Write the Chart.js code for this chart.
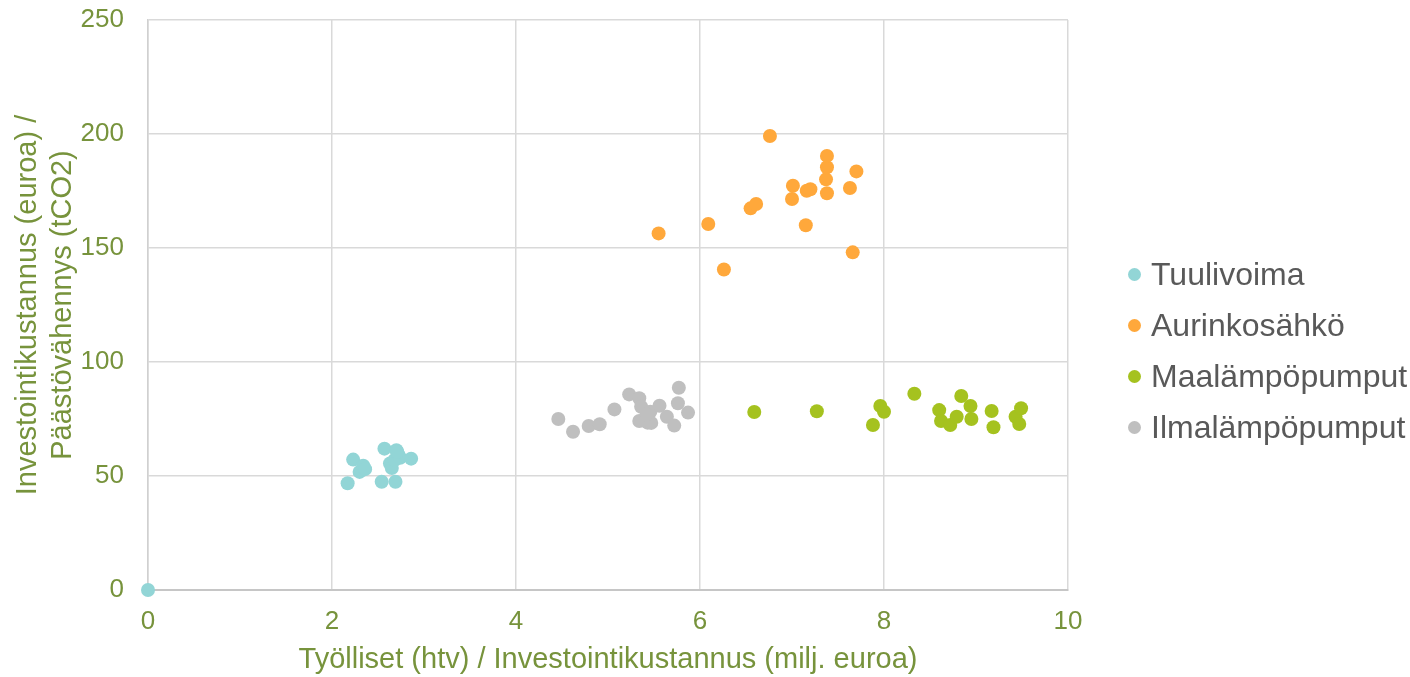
<!DOCTYPE html>
<html lang="fi">
<head>
<meta charset="utf-8">
<title>Työlliset ja päästövähennys</title>
<script src="https://cdn.jsdelivr.net/npm/chart.js@4/dist/chart.umd.min.js"></script>
<style>
    html, body { margin: 0; padding: 0; background: #ffffff; }
    #wrap { position: relative; width: 1410px; height: 677px; }
    #legend {
        position: absolute;
        left: 1127.5px;
        top: 248.5px;
        font-family: "Liberation Sans", Arial, sans-serif;
        font-size: 32px;
        color: #595959;
    }
    .legend-item {
        display: flex;
        align-items: center;
        height: 51px;
        line-height: 32px;
        white-space: nowrap;
    }
    .legend-dot {
        width: 13px;
        height: 13px;
        border-radius: 50%;
        margin-right: 10.5px;
        flex: none;
    }
</style>
</head>
<body>
<div id="wrap">
    <canvas id="scatterChart" width="1410" height="677"></canvas>
    <div id="legend"></div>
</div>
<script>
// =========================================================
// Data
// =========================================================

const seriesNames = ['Tuulivoima', 'Aurinkosähkö', 'Maalämpöpumput', 'Ilmalämpöpumput'];

const tuuliX = [0, 2.17, 2.23, 2.30, 2.34, 2.36, 2.54, 2.57, 2.63, 2.65, 2.68, 2.70, 2.72, 2.74, 2.69, 2.86, 2.71];
const tuuliY = [0, 46.8, 57.2, 51.8, 54.5, 53.0, 47.5, 62.0, 55.5, 53.5, 57.0, 61.3, 59.5, 58.0, 47.5, 57.6, 60.5];

const aurinkoX = [5.55, 6.09, 6.26, 6.55, 6.61, 6.76, 7.00, 7.01, 7.15, 7.16, 7.20, 7.37, 7.38, 7.38, 7.38, 7.63, 7.66, 7.70];
const aurinkoY = [156.4, 160.5, 140.6, 167.4, 169.3, 199.1, 171.5, 177.3, 160.0, 175.1, 175.8, 180.1, 174.0, 185.4, 190.4, 176.3, 148.1, 183.6];

const maaX = [6.59, 7.27, 7.88, 7.96, 8.00, 8.33, 8.60, 8.62, 8.72, 8.79, 8.84, 8.94, 8.95, 9.17, 9.19, 9.43, 9.47, 9.49];
const maaY = [78.1, 78.4, 72.4, 80.7, 78.2, 86.1, 78.9, 74.1, 72.4, 76.0, 85.1, 80.7, 75.0, 78.5, 71.4, 76.0, 72.8, 79.7];

const ilmaX = [4.46, 4.62, 4.79, 4.91, 5.07, 5.23, 5.34, 5.36, 5.46, 5.56, 5.34, 5.43, 5.47, 5.64, 5.72, 5.77, 5.76, 5.87, 5.42];
const ilmaY = [75.0, 69.4, 71.9, 72.7, 79.2, 85.8, 84.1, 80.4, 78.2, 80.8, 74.1, 73.4, 73.3, 76.0, 72.1, 88.7, 81.9, 77.8, 77.0];

const xTitle = 'Työlliset (htv) / Investointikustannus (milj. euroa)';
const yTitle = ['Investointikustannus (euroa) /', 'Päästövähennys (tCO2)'];

// =========================================================
// Styling
// =========================================================

const seriesColors = ['#92D5D6', '#FFA83B', '#A5C21F', '#BFBFBF'];
const axisText = '#77933C';
const fontFamily = '"Liberation Sans", Arial, sans-serif';

function toPoints(xs, ys) {
    return xs.map((x, i) => ({ x: x, y: ys[i] }));
}

const allSeries = [
    toPoints(tuuliX, tuuliY),
    toPoints(aurinkoX, aurinkoY),
    toPoints(maaX, maaY),
    toPoints(ilmaX, ilmaY)
];

const datasets = allSeries.map((pts, i) => ({
    label: seriesNames[i],
    data: pts,
    backgroundColor: seriesColors[i],
    borderColor: seriesColors[i],
    borderWidth: 0,
    pointRadius: 7,
    pointHoverRadius: 7,
    pointStyle: 'circle',
    clip: false   // the origin point sits on the axes and is drawn whole
}));

// =========================================================
// Legend (HTML, to the right of the plot)
// =========================================================

const legendEl = document.getElementById('legend');
seriesNames.forEach((name, i) => {
    const item = document.createElement('div');
    item.className = 'legend-item';
    const dot = document.createElement('span');
    dot.className = 'legend-dot';
    dot.style.background = seriesColors[i];
    const label = document.createElement('span');
    label.textContent = name;
    item.appendChild(dot);
    item.appendChild(label);
    legendEl.appendChild(item);
});

// =========================================================
// Chart
// =========================================================

const ctx = document.getElementById('scatterChart');

new Chart(ctx, {
    type: 'scatter',
    data: { datasets: datasets },
    options: {
        responsive: false,
        animation: false,
        devicePixelRatio: 1,
        layout: {
            padding: { top: 20, right: 342, bottom: 0, left: 0 }
        },
        plugins: {
            tooltip: { enabled: false },
            legend: { display: false }
        },
        scales: {
            x: {
                type: 'linear',
                min: 0,
                max: 10,
                ticks: {
                    stepSize: 2,
                    padding: 16,
                    color: axisText,
                    font: { family: fontFamily, size: 26 }
                },
                grid: {
                    color: '#D9D9D9',
                    lineWidth: 1.5,
                    drawTicks: false,
                    tickLength: 0
                },
                border: { color: '#C6C6C6', width: 2 },
                title: {
                    display: true,
                    text: xTitle,
                    color: axisText,
                    font: { family: fontFamily, size: 29 },
                    padding: { top: 0, bottom: 0 }
                },
                afterFit: scale => { scale.height = 87; }
            },
            y: {
                type: 'linear',
                min: 0,
                max: 250,
                ticks: {
                    stepSize: 50,
                    padding: 0,
                    color: axisText,
                    font: { family: fontFamily, size: 26 }
                },
                grid: {
                    color: '#D9D9D9',
                    lineWidth: 1.5,
                    drawTicks: true,
                    tickLength: 24,
                    tickColor: 'rgba(0,0,0,0)'
                },
                border: { color: '#D0D0D0', width: 1.5 },
                title: {
                    display: true,
                    text: yTitle,
                    color: axisText,
                    font: { family: fontFamily, size: 29 },
                    padding: { top: 11, bottom: 0 }
                },
                afterFit: scale => { scale.width = 148; }
            }
        }
    }
});
</script>
</body>
</html>
